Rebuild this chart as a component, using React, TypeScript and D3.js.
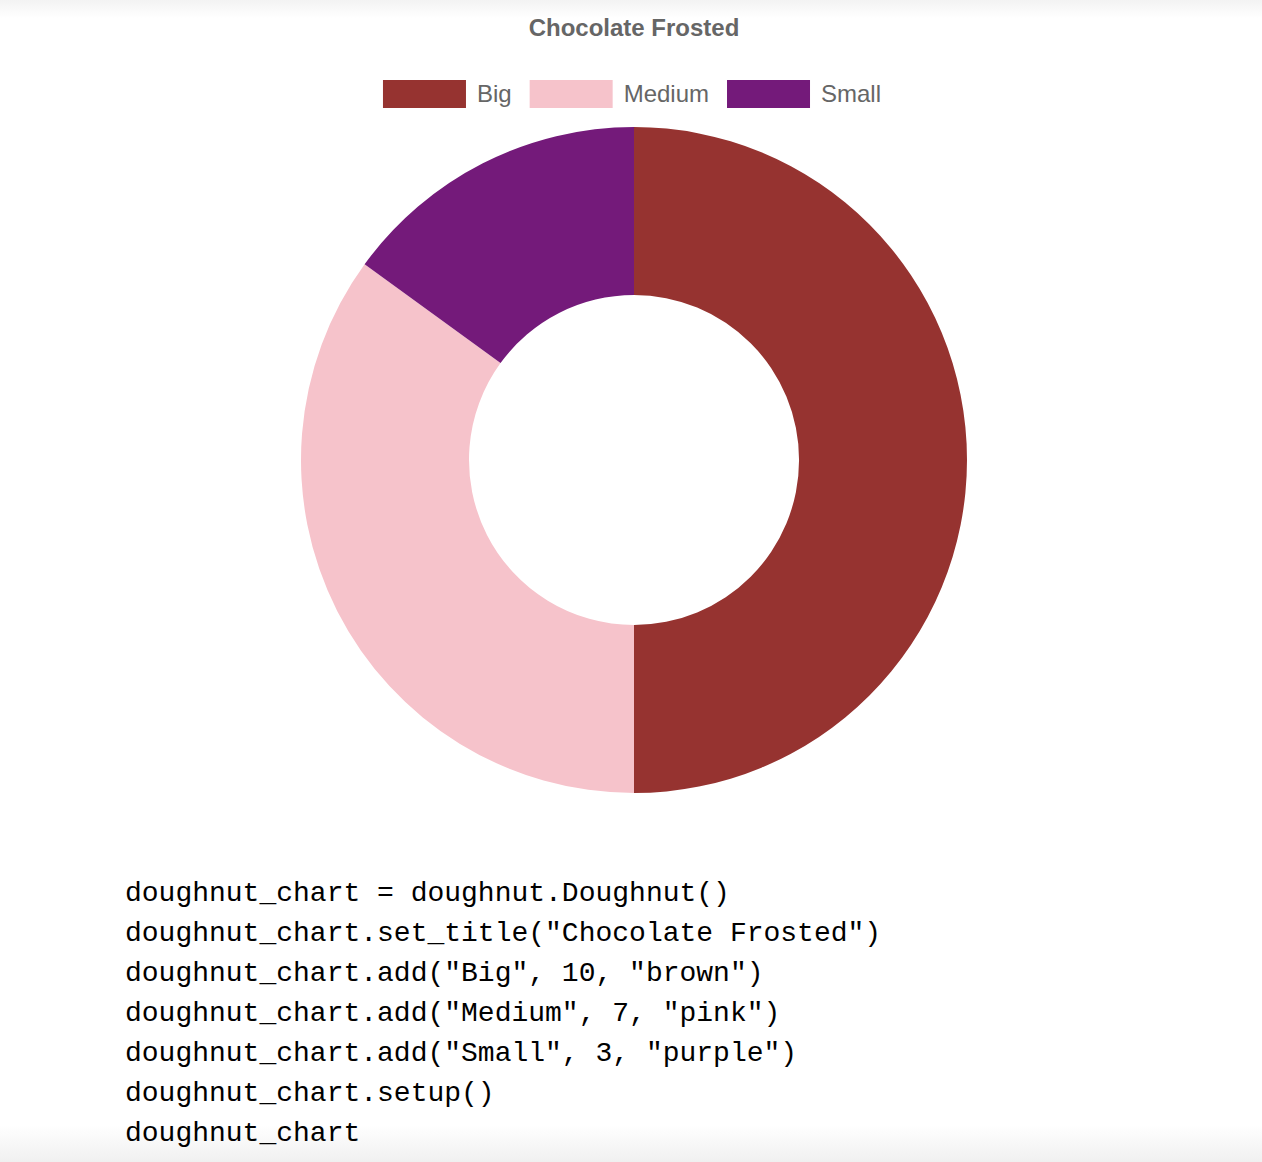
import * as d3 from 'd3';
import React, { useEffect, useRef } from 'react';

// doughnut data
const labels = ['Big', 'Medium', 'Small'];
const values = [10, 7, 3];
const colors = ['#963330', '#f6c3cb', '#741a7a'];
const title = 'Chocolate Frosted';
const codeLines = [
    'doughnut_chart = doughnut.Doughnut()',
    'doughnut_chart.set_title("Chocolate Frosted")',
    'doughnut_chart.add("Big", 10, "brown")',
    'doughnut_chart.add("Medium", 7, "pink")',
    'doughnut_chart.add("Small", 3, "purple")',
    'doughnut_chart.setup()',
    'doughnut_chart',
];

export default () => {
    const ref = useRef<any>();

    useEffect(() => {
        const width = 1262;
        const height = 1162;
        const cx = 634;
        const cy = 460;
        const outer = 333;
        const inner = 165;

        const svg = d3.select<any, any>(ref.current)
            .attr('width', width)
            .attr('height', height);
        svg.selectAll('*').remove();

        //Background shading at the edges
        const defs = svg.append('defs');
        const top = defs.append('linearGradient').attr('id', 'topShade').attr('x1', 0).attr('y1', 0).attr('x2', 0).attr('y2', 1);
        top.append('stop').attr('offset', '0%').attr('stop-color', '#f3f3f3');
        top.append('stop').attr('offset', '100%').attr('stop-color', '#ffffff');
        const bottom = defs.append('linearGradient').attr('id', 'bottomShade').attr('x1', 0).attr('y1', 0).attr('x2', 0).attr('y2', 1);
        bottom.append('stop').attr('offset', '0%').attr('stop-color', '#ffffff');
        bottom.append('stop').attr('offset', '100%').attr('stop-color', '#f0f0f0');

        svg.append('rect').attr('width', width).attr('height', height).attr('fill', '#fff');
        svg.append('rect').attr('width', width).attr('height', 18).attr('fill', 'url(#topShade)');
        svg.append('rect').attr('y', 1125).attr('width', width).attr('height', 37).attr('fill', 'url(#bottomShade)');

        //Title
        svg.append('text')
            .attr('x', cx)
            .attr('y', 36)
            .attr('text-anchor', 'middle')
            .attr('font-family', 'Liberation Sans, Arial, sans-serif')
            .attr('font-weight', 'bold')
            .attr('font-size', 24)
            .attr('fill', '#666')
            .text(title);

        //Legend
        const boxW = 83;
        const boxH = 28;
        const legend = svg.append('g').attr('font-family', 'Liberation Sans, Arial, sans-serif').attr('font-size', 24).attr('fill', '#666');
        const measure = legend.append('text').attr('visibility', 'hidden');
        const textWidths = labels.map((l) => {
            measure.text(l);
            return (measure.node() as SVGTextElement).getComputedTextLength();
        });
        measure.remove();
        const itemW = textWidths.map((w) => boxW + 11 + w);
        const gap = 18;
        const total = d3.sum(itemW) + gap * (labels.length - 1);
        let x0 = cx - 2 - total / 2;
        labels.forEach((l, i) => {
            legend.append('rect')
                .attr('x', x0)
                .attr('y', 80)
                .attr('width', boxW)
                .attr('height', boxH)
                .attr('fill', colors[i]);
            legend.append('text')
                .attr('x', x0 + boxW + 11)
                .attr('y', 102)
                .text(l);
            x0 += itemW[i] + gap;
        });

        //Doughnut
        const pie = d3.pie<number>().sort(null).value((d) => d);
        const arc = d3.arc<d3.PieArcDatum<number>>().innerRadius(inner).outerRadius(outer);
        svg.append('g')
            .attr('transform', `translate(${cx},${cy})`)
            .selectAll('path')
            .data(pie(values))
            .join('path')
            .attr('d', arc)
            .attr('fill', (d, i) => colors[i]);

        //Code block
        svg.append('g')
            .attr('font-family', 'Courier New, Liberation Mono, monospace')
            .attr('font-size', 28)
            .attr('fill', '#000')
            .selectAll('text')
            .data(codeLines)
            .join('text')
            .attr('x', 125)
            .attr('y', (d, i) => 901 + i * 40)
            .attr('xml:space', 'preserve')
            .text((d) => d);
    });

    return (
        <svg ref={ref} style={{ position: 'absolute', left: 0, top: 0, display: 'block' }}></svg>
    );
};
